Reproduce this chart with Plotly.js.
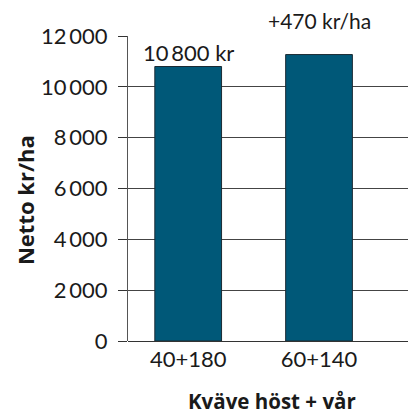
<!DOCTYPE html>
<html><head><meta charset="utf-8">
<script src="https://cdn.plot.ly/plotly-3.0.1.min.js"></script>
<style>html,body{margin:0;padding:0;background:#fff}#c{width:408px;height:416px}</style>
</head><body><div id="c"></div>
<script>
const categories = ["40+180", "60+140"];
const netto = [10800, 11270];
const barLabels = ["10\u2009800 kr", "+470 kr/ha"];
const tickVals = [0, 2000, 4000, 6000, 8000, 10000, 12000];
const tickText = ["0", "2\u2009000", "4\u2009000", "6\u2009000", "8\u2009000", "10\u2009000", "12\u2009000"];
const xTitle = "Kväve höst + vår";
const yTitle = "Netto kr/ha";
const font = "Lato, 'Noto Sans', sans-serif";
const titleFont = "'Open Sans', 'Noto Sans', sans-serif";

const data = [{
  type: "bar", x: [0, 1], y: netto,
  marker: {color: "#005878", line: {color: "#1b2a33", width: 1}},
  width: 0.51, hoverinfo: "none"
}];
const layout = {
  width: 408, height: 416,
  margin: {l: 128, r: 0, t: 36, b: 75},
  paper_bgcolor: "#fff", plot_bgcolor: "#fff",
  showlegend: false,
  font: {family: font, color: "#1a1a1a", size: 22},
  xaxis: {
    range: [-0.46, 1.68], tickvals: [0, 1], ticktext: categories,
    showgrid: false, zeroline: false, showline: false, ticks: "",
    ticklabelstandoff: 3,
    tickfont: {size: 22}, fixedrange: true
  },
  yaxis: {
    range: [0, 12000], tickvals: tickVals, ticktext: tickText,
    showgrid: true, gridcolor: "#444", gridwidth: 1,
    zeroline: true, zerolinecolor: "#333", zerolinewidth: 1,
    showline: true, linecolor: "#555", linewidth: 1,
    ticks: "outside", ticklen: 9, tickcolor: "#333",
    ticklabelstandoff: 6,
    tickfont: {size: 22}, fixedrange: true
  },
  annotations: [
    {x: 0, y: netto[0], xref: "x", yref: "y", text: barLabels[0], showarrow: false, yanchor: "bottom", yshift: -1, font: {size: 22}},
    {x: 1, y: 12000, xref: "x", yref: "y", text: barLabels[1], showarrow: false, yanchor: "bottom", yshift: 1, font: {size: 21}},
    {x: 0.514, y: -0.197, xref: "paper", yref: "paper", text: "<b>" + xTitle + "</b>", showarrow: false, xanchor: "center", yanchor: "middle", font: {size: 20.5, family: titleFont}},
    {x: -0.368, y: 0.462, xref: "paper", yref: "paper", text: "<b>" + yTitle + "</b>", textangle: -90, showarrow: false, xanchor: "center", yanchor: "middle", font: {size: 22, family: titleFont}}
  ]
};
Plotly.newPlot("c", data, layout, {displayModeBar: false, staticPlot: true});
</script></body></html>
